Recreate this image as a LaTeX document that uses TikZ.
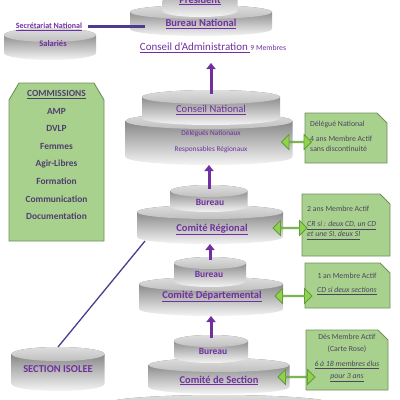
\documentclass[tikz,border=0pt]{standalone}
\usepackage{fontspec}
\setmainfont{Carlito}
\usetikzlibrary{arrows.meta,positioning,shapes.arrows,calc}

\definecolor{vio}{HTML}{7030A0}
\definecolor{vioDark}{HTML}{4E3A8E}
\definecolor{boxGreen}{HTML}{A9D18E}
\definecolor{boxEdge}{HTML}{6F8F5A}
\definecolor{arrGreen}{HTML}{92D050}
\definecolor{arrEdge}{HTML}{5F9E35}
\definecolor{boxText}{HTML}{4D4560}
\definecolor{comText}{HTML}{4F3F6E}

\begin{document}
\begin{tikzpicture}[
  x=1pt, y=-1pt,
  % cylinders: shaded body + lighter lid
  drum/.style={top color=black!55, bottom color=black!4},
  lid/.style={top color=black!13, bottom color=black!25},
  T/.style={text=vio, font=\bfseries\fontsize{10.5}{12}\selectfont, inner sep=1pt},
  B/.style={text=vio, font=\bfseries\fontsize{9.5}{11}\selectfont, inner sep=1pt},
  R/.style={text=vio, font=\fontsize{7.3}{9}\selectfont, inner sep=1pt},
  gbox/.style={fill=boxGreen, draw=boxEdge, line width=0.9pt},
  G/.style={text=boxText, font=\fontsize{7.8}{10}\selectfont, inner sep=0pt},
  dbl/.style={double arrow, fill=arrGreen, draw=arrEdge, line width=0.8pt,
              minimum width=15pt, double arrow head extend=4pt, inner sep=0pt},
  uparr/.style={-{Triangle[length=6pt,width=9pt]}, draw=vio, line width=3pt},
]
\useasboundingbox (0,0) rectangle (400,400);

%% -- Cylinders (back to front) ------------------------------------
\foreach \nm/\cx/\yt/\yb/\w/\r in {base/219/395/440/222/8, cs/219/358/394/141/7,
    bs/211/335/363/74/6, cd/211/277/316/144/7, bd/210/257/287/72/6,
    cr/210/205/244/146/7, br/209/185/212/77/6, cnb/209/113/165/167/8,
    cn/211/90/125/138/7, bn/201/5/36/142/7, pres/200/-25/17/75/6,
    sal/50/28/60/92/7, si/58/347/391/93/7}{
  \pgfmathsetmacro\xl{\cx-\w/2}
  \pgfmathsetmacro\xr{\cx+\w/2}
  \shade[drum] (\xl,\yt+\r) -- (\xl,\yb-\r)
    arc[start angle=180, end angle=0, x radius=\w/2, y radius=\r]
    -- (\xr,\yt+\r)
    arc[start angle=0, end angle=-180, x radius=\w/2, y radius=\r] -- cycle;
  \shade[lid] (\cx,\yt+\r) ellipse[x radius=\w/2, y radius=\r];
  \coordinate (\nm-n) at (\cx,\yt);
  \coordinate (\nm-s) at (\cx,\yb);
}

%% -- Cylinder labels ----------------------------------------------
\node[T] (pres-t) at (200,0.5) {\underline{Président}};
\node[T] (bn-t)   at (201,24) {\underline{Bureau National}};
\node[text=vio, font=\bfseries\fontsize{8}{10}\selectfont, inner sep=1pt]
      (secr) at (49,26.5) {\underline{Secrétariat National}};
\node[text=vio, font=\bfseries\fontsize{8.5}{10}\selectfont, inner sep=1pt]
      (sal-t) at (53,44) {Salariés};
\node[text=vio, font=\fontsize{11}{13}\selectfont, inner sep=1pt]
      (ca) at (213,48) {\underline{Conseil d’Administration\ }{\fontsize{7.7}{9}\selectfont 9 Membres}};
\node[text=vio, font=\fontsize{10.6}{12}\selectfont, inner sep=1pt]
      (cn-t) at (211,110) {\underline{Conseil National}};
\node[R] (cnb-t1) at (211,134) {Délégués Nationaux};
\node[R] (cnb-t2) at (211,150) {Responsables Régionaux};
\node[B] (br-t) at (210,202) {Bureau};
\node[T] (cr-t) at (212,229.5) {\underline{Comité Régional}};
\node[B] (bd-t) at (209,274) {Bureau};
\node[T] (cd-t) at (212,296.5) {\underline{Comité Départemental}};
\node[B] (bs-t) at (213,351) {Bureau};
\node[T] (cs-t) at (219,380.5) {\underline{Comité de Section}};
\node[T] (si-t) at (58,369) {SECTION ISOLEE};

%% -- Commissions --------------------------------------------------
\draw[gbox] (9,100) -- (19,83) -- (94,83) -- (104,100) -- (104,241) -- (9,241) -- cycle;
\node[text=comText, font=\bfseries\fontsize{9.4}{17.6}\selectfont, align=center]
      (comm) at (56.5,155)
      {\underline{COMMISSIONS}\\AMP\\DVLP\\Femmes\\Agir-Libres\\Formation\\Communication\\Documentation};

%% -- Green side boxes ---------------------------------------------
\draw[gbox] (305,113) -- (377,113) -- (387,123) -- (387,163) -- (305,163) -- cycle;
\draw[gbox] (302,194) -- (380,194) -- (390,204) -- (390,256) -- (302,256) -- cycle;
\draw[gbox] (305,263) -- (380,263) -- (390,273) -- (390,308) -- (305,308) -- cycle;
\draw[gbox] (306,330) -- (378,330) -- (388,340) -- (388,390) -- (306,390) -- cycle;

\node[G, align=left, anchor=west] (dn-t) at (310,136)
      {Délégué National\\[5pt]4 ans Membre Actif\\sans discontinuité};
\node[G, align=left, anchor=west] (crb-t) at (307,223)
      {2 ans Membre Actif\\[5pt]\textit{\underline{CR si : deux CD, un CD}}\\\textit{\underline{et une SI, deux SI}}};
\node[G, align=center] (cdb-t) at (347,284)
      {1 an Membre Actif\\[4pt]\textit{\underline{CD si deux sections}}};
\node[G, align=center, font=\fontsize{7.8}{12}\selectfont] (csb-t) at (347,358)
      {Dès Membre Actif\\(Carte Rose)\\[3pt]\textit{\underline{6 à 18 membres élus}}\\\textit{\underline{pour 3 ans}}};

%% -- Double arrows ------------------------------------------------
\node[dbl, minimum height=30pt] (da1) at (296.5,142) {};
\node[dbl, minimum height=34pt] (da2) at (290,228) {};
\node[dbl, minimum height=37pt] (da3) at (293.5,296) {};
\node[dbl, minimum height=37pt] (da4) at (296.5,377) {};

%% -- Links --------------------------------------------------------
\coordinate (bnW)  at (145,25);
\coordinate (caTip) at (211,63);
\coordinate (crSW) at (145,241);
\draw[line width=3pt, vioDark] ([xshift=5pt]secr.east) -- (secr.east -| bnW);
\draw[line width=1.3pt, vioDark] (si-n) -- (crSW);

\draw[uparr] ([yshift=-4pt]cn-n) -- (caTip);
\draw[uparr] ([yshift=-4pt]br-n) -- (cnb-s);
\draw[uparr] ([yshift=-3pt]bd-n) -- (cr-s);
\draw[uparr] ([yshift=-3pt]bs-n) -- (cd-s);

\end{tikzpicture}
\end{document}
